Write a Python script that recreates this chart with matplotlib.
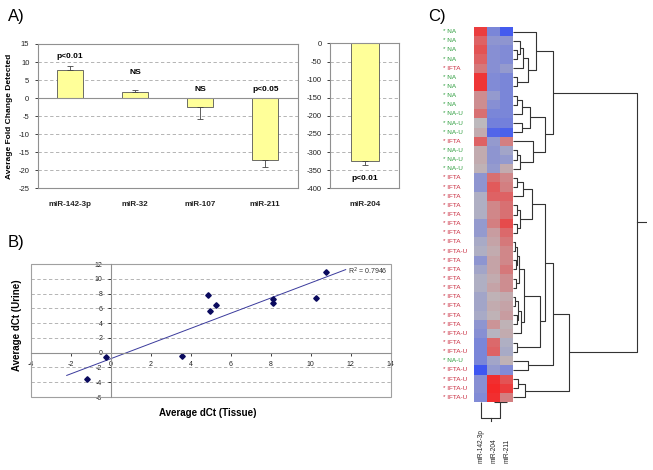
import matplotlib
matplotlib.use("Agg")
import matplotlib.pyplot as plt
import matplotlib.transforms as mtransforms
from matplotlib.colors import LinearSegmentedColormap
from matplotlib.patches import Rectangle
import numpy as np

plt.rcParams['font.family'] = ['Liberation Sans', 'DejaVu Sans']
plt.rcParams['axes.unicode_minus'] = False

W, H = 653, 470

# panel A: fold change of the four small miRNAs, miR-204 on its own scale
a_genes = ['miR-142-3p', 'miR-32', 'miR-107', 'miR-211']
a_fold = [7.8, 1.7, -2.6, -17.2]
a_err = [1.1, 0.6, 3.1, 2.0]
a_sig = ['p<0.01', 'NS', 'NS', 'p<0.05']

b_genes = ['miR-204']
b_fold = [-324]
b_err = [13]
b_sig = ['p<0.01']

# panel B: tissue vs urine dCt
tissue_dct = [-1.2, -0.23, 3.55, 4.85, 4.95, 5.28, 8.13, 8.13, 10.25, 10.75]
urine_dct = [-3.53, -0.59, -0.45, 7.84, 5.66, 6.48, 7.2, 6.75, 7.43, 10.91]
r_squared = 0.7946

# panel C: clustered heatmap (rows top to bottom)
row_groups = ['NA', 'NA', 'NA', 'NA', 'IFTA', 'NA', 'NA', 'NA', 'NA', 'NA-U',
              'NA-U', 'NA-U', 'IFTA', 'NA-U', 'NA-U', 'NA-U', 'IFTA', 'IFTA', 'IFTA', 'IFTA',
              'IFTA', 'IFTA', 'IFTA', 'IFTA', 'IFTA-U', 'IFTA', 'IFTA', 'IFTA', 'IFTA', 'IFTA',
              'IFTA', 'IFTA', 'IFTA', 'IFTA-U', 'IFTA', 'IFTA-U', 'NA-U', 'IFTA-U', 'IFTA-U', 'IFTA-U',
              'IFTA-U']
heat_mirs = ['miR-142-3p', 'miR-204', 'miR-211']
heat_142 = [0.85, 0.6, 0.7, 0.6, 0.45, 0.9, 0.9, 0.3, 0.3, 0.5,
            0.0, 0.1, 0.6, 0.1, 0.1, 0.05, -0.35, -0.35, -0.1, -0.1,
            -0.1, -0.3, -0.3, -0.15, -0.1, -0.35, -0.2, -0.1, -0.1, -0.2,
            -0.2, -0.15, -0.35, -0.4, -0.5, -0.5, -0.5, -0.95, -0.4, -0.4,
            -0.45]
heat_204 = [-0.5, -0.35, -0.4, -0.4, -0.4, -0.45, -0.45, -0.3, -0.4, -0.5,
            -0.55, -0.8, -0.3, -0.35, -0.35, -0.3, 0.5, 0.65, 0.6, 0.35,
            0.35, 0.4, 0.2, 0.15, 0.1, 0.15, 0.15, 0.1, 0.15, 0.05,
            0.1, 0.05, 0.25, -0.05, 0.55, 0.6, -0.2, -0.3, 0.95, 1.0,
            0.95]
heat_211 = [-0.9, -0.35, -0.45, -0.45, -0.3, -0.5, -0.5, -0.5, -0.5, -0.5,
            -0.55, -0.85, 0.4, -0.2, -0.3, 0.1, 0.35, 0.4, 0.6, 0.5,
            0.5, 0.75, 0.55, 0.45, 0.35, 0.35, 0.45, 0.3, 0.3, 0.1,
            0.15, 0.2, 0.05, 0.1, -0.1, -0.15, 0.05, -0.45, 0.7, 0.85,
            0.4]

# row tree: (name, left, right, height); ints are row numbers, strings earlier merges
row_links = [
    ("n1", 6, 7, 3.3), ("n2", 3, 4, 3.3), ("n3", 2, "n2", 6.7), ("n4", "n3", 5, 10.0),
    ("n5", "n4", "n1", 15.0), ("n6", 1, "n5", 22.7),
    ("n7", 8, 9, 3.3), ("n8", "n7", 10, 8.3), ("n9", 11, 12, 8.3), ("n10", "n8", "n9", 16.7),
    ("n11", 14, 15, 3.3), ("n12", "n11", 16, 6.7), ("n13", 13, "n12", 20.0),
    ("n14", "n10", "n13", 31.7), ("n15", "n6", "n14", 39.3),
    ("n16", 17, 18, 3.3), ("n17", "n16", 19, 9.3), ("n18", 20, 21, 3.3), ("n19", 22, 23, 3.3),
    ("n20", "n18", "n19", 6.7), ("n21", "n17", "n20", 18.3),
    ("n22", 24, 25, 1.7), ("n23", 26, 27, 2.7), ("n24", "n22", "n23", 4.0), ("n25", 28, 29, 2.7),
    ("n26", "n24", "n25", 6.0), ("n27", 30, 31, 2.0), ("n28", 32, 33, 3.3), ("n29", "n27", "n28", 5.0),
    ("n30", "n29", 34, 7.3), ("n31", "n26", "n30", 10.7), ("n32", 35, 36, 3.3),
    ("n33", "n31", "n32", 26.7), ("n34", "n21", "n33", 31.7), ("n35", 37, 38, 15.0),
    ("n36", "n34", "n35", 40.0), ("n37", 39, 40, 5.0), ("n38", "n37", 41, 11.7),
    ("n39", "n36", "n38", 56.0), ("root", "n15", "n39", 124.0),
]
col_links = [("c1", 2, 3, 0.3), ("croot", 1, "c1", 16.0)]


def rect(x0, y0, x1, y1):
    """pixel box (top-left origin) -> figure fraction rect"""
    return [x0 / W, 1 - y1 / H, (x1 - x0) / W, (y1 - y0) / H]


def excel_frame(ax):
    for sp in ax.spines.values():
        sp.set_color('#909090')
        sp.set_linewidth(0.8)
    ax.tick_params(labelsize=5.5, colors='#222222', length=2.5, width=0.6)
    ax.yaxis.grid(True, linestyle=(0, (4, 3)), color='#A8A8A8', linewidth=0.6)
    ax.set_axisbelow(True)


def draw_tree(ax, links, n_leaves, horizontal, color='#333333'):
    pos = {i + 1: float(i) for i in range(n_leaves)}
    hgt = {i + 1: 0.0 for i in range(n_leaves)}
    for name, left, right, h in links:
        hs = [hgt[left], h, h, hgt[right]]
        ps = [pos[left], pos[left], pos[right], pos[right]]
        if horizontal:
            ax.plot(hs, ps, color=color, lw=0.8, solid_capstyle='butt')
        else:
            ax.plot(ps, hs, color=color, lw=0.8, solid_capstyle='butt')
        pos[name] = (pos[left] + pos[right]) / 2
        hgt[name] = h
    return pos[links[-1][0]], hgt[links[-1][0]]


fig = plt.figure(figsize=(W / 100, H / 100), dpi=100)

# ---------------- A) ----------------
ax1 = fig.add_axes(rect(37.7, 44, 297.7, 188.3))
excel_frame(ax1)
x1 = np.arange(len(a_genes))
lo = [e if v < 0 else 0 for v, e in zip(a_fold, a_err)]
hi = [e if v >= 0 else 0 for v, e in zip(a_fold, a_err)]
ax1.bar(x1, a_fold, width=0.4, color='#FFFF99', edgecolor='#555555', linewidth=0.6,
        yerr=[lo, hi], error_kw=dict(ecolor='#444444', elinewidth=0.6, capsize=2, capthick=0.6))
ax1.axhline(0, color='#909090', lw=0.8)
ax1.set_xlim(-0.5, len(a_genes) - 0.5)
ax1.set_ylim(-25, 15)
ax1.set_yticks(range(-25, 16, 5))
ax1.set_xticks(x1)
ax1.set_xticklabels(a_genes, fontweight='bold', fontsize=5.8)
ax1.tick_params(axis='x', length=0, pad=9)
sig_y = [11.5, 7.1, 2.3, 2.3]
for xi, s, yy in zip(x1, a_sig, sig_y):
    ax1.text(xi, yy, s, ha='center', va='center', fontsize=6, fontweight='bold')

ax2 = fig.add_axes(rect(330, 43.5, 399.3, 188.3))
excel_frame(ax2)
ax2.bar([0], b_fold, width=0.4, color='#FFFF99', edgecolor='#555555', linewidth=0.6,
        yerr=[b_err, [0]], error_kw=dict(ecolor='#444444', elinewidth=0.6, capsize=2, capthick=0.6))
ax2.set_xlim(-0.5, 0.5)
ax2.set_ylim(-400, 0)
ax2.set_yticks(range(-400, 1, 50))
ax2.set_xticks([0])
ax2.set_xticklabels(b_genes, fontweight='bold', fontsize=5.8)
ax2.tick_params(axis='x', length=0, pad=9)
ax2.text(0, b_fold[0] - b_err[0] - 36, b_sig[0], ha='center', va='center',
         fontsize=6, fontweight='bold')

fig.text(10 / W, 1 - 116 / H, 'Average Fold Change Detected', rotation=90,
         ha='center', va='center', fontsize=6, fontweight='bold')

# ---------------- B) ----------------
axb = fig.add_axes(rect(30.7, 264, 390.7, 397))
axb.set_xlim(-4, 14)
axb.set_ylim(-6, 12)
axb.set_xticks(range(-4, 15, 2))
axb.set_yticks(range(-6, 13, 2))
for side in ('top', 'right'):
    axb.spines[side].set_visible(False)
axb.spines['left'].set_position(('data', 0))
axb.spines['bottom'].set_position(('data', 0))
for side in ('left', 'bottom'):
    axb.spines[side].set_color('#909090')
    axb.spines[side].set_linewidth(0.8)
axb.add_patch(Rectangle((0, 0), 1, 1, transform=axb.transAxes, fill=False,
                        edgecolor='#A0A0A0', lw=0.8, clip_on=False))
axb.tick_params(labelsize=5, colors='#222222', length=2.5, width=0.6)
axb.yaxis.grid(True, linestyle=(0, (4, 3)), color='#A8A8A8', linewidth=0.6)
axb.set_axisbelow(True)

slope, icpt = np.polyfit(tissue_dct, urine_dct, 1)
xx = np.array([min(tissue_dct) - 1, max(tissue_dct) + 1])
axb.plot(xx, slope * xx + icpt, color='#3A3A9C', lw=0.7)
axb.plot(tissue_dct, urine_dct, 'D', color='#0A0A5E', markersize=2.8)
axb.text(11.85, 11.0, 'R$^2$ = %.4f' % r_squared, fontsize=5, color='#333333',
         ha='left', va='center')

fig.text(17 / W, 1 - 325 / H, 'Average dCt (Urine)', rotation=90,
         ha='center', va='center', fontsize=7, fontweight='bold')
fig.text(208 / W, 1 - 413 / H, 'Average dCt (Tissue)',
         ha='center', va='center', fontsize=7, fontweight='bold')

# ---------------- C) ----------------
cmap = LinearSegmentedColormap.from_list('bgr', ['#3852F4', '#BDBABE', '#F42828'])
mat = np.array([heat_142, heat_204, heat_211]).T
n_rows = len(row_groups)

axh = fig.add_axes(rect(474.3, 27, 513.3, 402))
axh.imshow(mat, cmap=cmap, vmin=-1, vmax=1, aspect='auto', interpolation='nearest')
axh.set_xlim(-0.5, 2.5)
axh.set_ylim(n_rows - 0.5, -0.5)
axh.axis('off')

lab_tr = mtransforms.blended_transform_factory(fig.transFigure, axh.transData)
for i, g in enumerate(row_groups):
    col = '#2E9E3E' if g.startswith('NA') else '#C8283C'
    axh.text(443 / W, i, '* ' + g, transform=lab_tr, ha='left', va='center',
             fontsize=4.6, color=col)

col_tr = mtransforms.blended_transform_factory(axh.transData, fig.transFigure)
for j, m in enumerate(heat_mirs):
    axh.text(j, 1 - 463 / H, m, transform=col_tr, rotation=90, ha='center',
             va='bottom', fontsize=4.7, color='#222222')

axr = fig.add_axes(rect(513.3, 27, 647, 402))
rp, rh = draw_tree(axr, row_links, n_rows, horizontal=True)
axr.plot([rh, rh + 9], [rp, rp], color='#333333', lw=0.8)
axr.set_xlim(0, 133.7)
axr.set_ylim(n_rows - 0.5, -0.5)
axr.axis('off')

axc = fig.add_axes(rect(474.3, 402, 513.3, 425))
cp, ch = draw_tree(axc, col_links, len(heat_mirs), horizontal=False)
axc.plot([cp, cp], [ch, ch + 3], color='#333333', lw=0.8)
axc.set_xlim(-0.5, 2.5)
axc.set_ylim(23, 0)
axc.axis('off')

# panel letters
for lx, ly, t in [(8, 17, 'A)'), (8, 243, 'B)'), (428, 17, 'C)')]:
    fig.text(lx / W, 1 - ly / H, t, fontsize=12, ha='left', va='center')

fig.savefig('out.png', dpi=100)
